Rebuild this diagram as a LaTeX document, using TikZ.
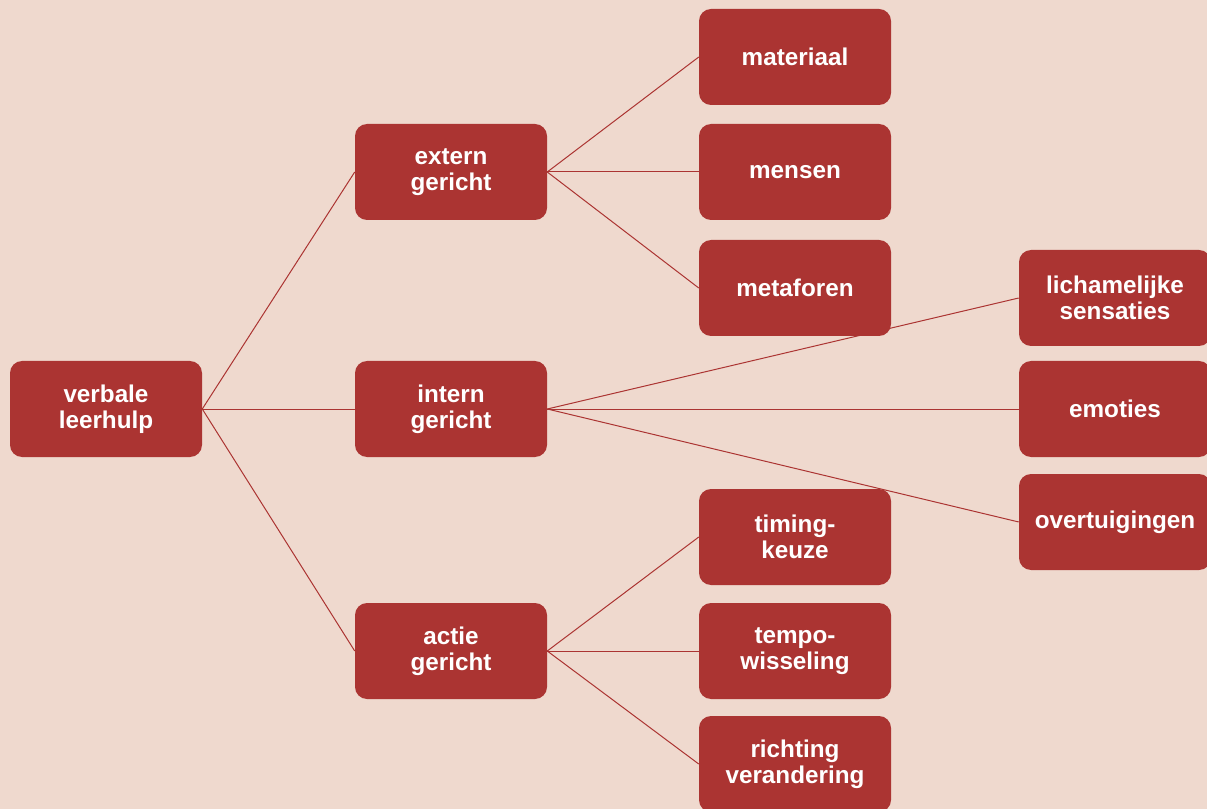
\documentclass[tikz,border=0pt]{standalone}
\usepackage{fontspec}
\setmainfont{Liberation Sans}
\definecolor{bg}{HTML}{EFD9CE}
\definecolor{box}{HTML}{AB3432}
\tikzset{
  leaf/.style={rectangle, rounded corners=9pt, fill=box, minimum width=144pt, minimum height=72pt,
    text=white, font=\fontsize{18.2}{19.6}\selectfont\bfseries, align=center, inner sep=0pt,
    execute at begin node={\vspace*{4.5pt}}},
  link/.style={draw=box, line width=0.75pt}
}
\begin{document}
\begin{tikzpicture}[x=0.75pt, y=-0.75pt]
\fill[bg] (0,0) rectangle (1207,809);
\useasboundingbox (0,0) rectangle (1207,809);
\node[leaf] (root) at (106,409) {verbale\\leerhulp};
\node[leaf] (ext) at (451,172) {extern\\gericht};
\node[leaf] (int) at (451,409) {intern\\gericht};
\node[leaf] (act) at (451,651) {actie\\gericht};
\node[leaf] (mat) at (795,57) {materiaal};
\node[leaf] (men) at (795,172) {mensen};
\node[leaf] (met) at (795,288) {metaforen};
\node[leaf] (tim) at (795,537) {timing-\\keuze};
\node[leaf] (tem) at (795,651) {tempo-\\wisseling};
\node[leaf] (ric) at (795,764) {richting\\verandering};
\node[leaf] (lic) at (1115,298) {lichamelijke\\sensaties};
\node[leaf] (emo) at (1115,409) {emoties};
\node[leaf] (ove) at (1115,522) {overtuigingen};
\draw[link] (root.east) -- (ext.west);
\draw[link] (root.east) -- (int.west);
\draw[link] (root.east) -- (act.west);
\draw[link] (ext.east) -- (mat.west);
\draw[link] (ext.east) -- (men.west);
\draw[link] (ext.east) -- (met.west);
\draw[link] (int.east) -- (lic.west);
\draw[link] (int.east) -- (emo.west);
\draw[link] (int.east) -- (ove.west);
\draw[link] (act.east) -- (tim.west);
\draw[link] (act.east) -- (tem.west);
\draw[link] (act.east) -- (ric.west);
\end{tikzpicture}
\end{document}
